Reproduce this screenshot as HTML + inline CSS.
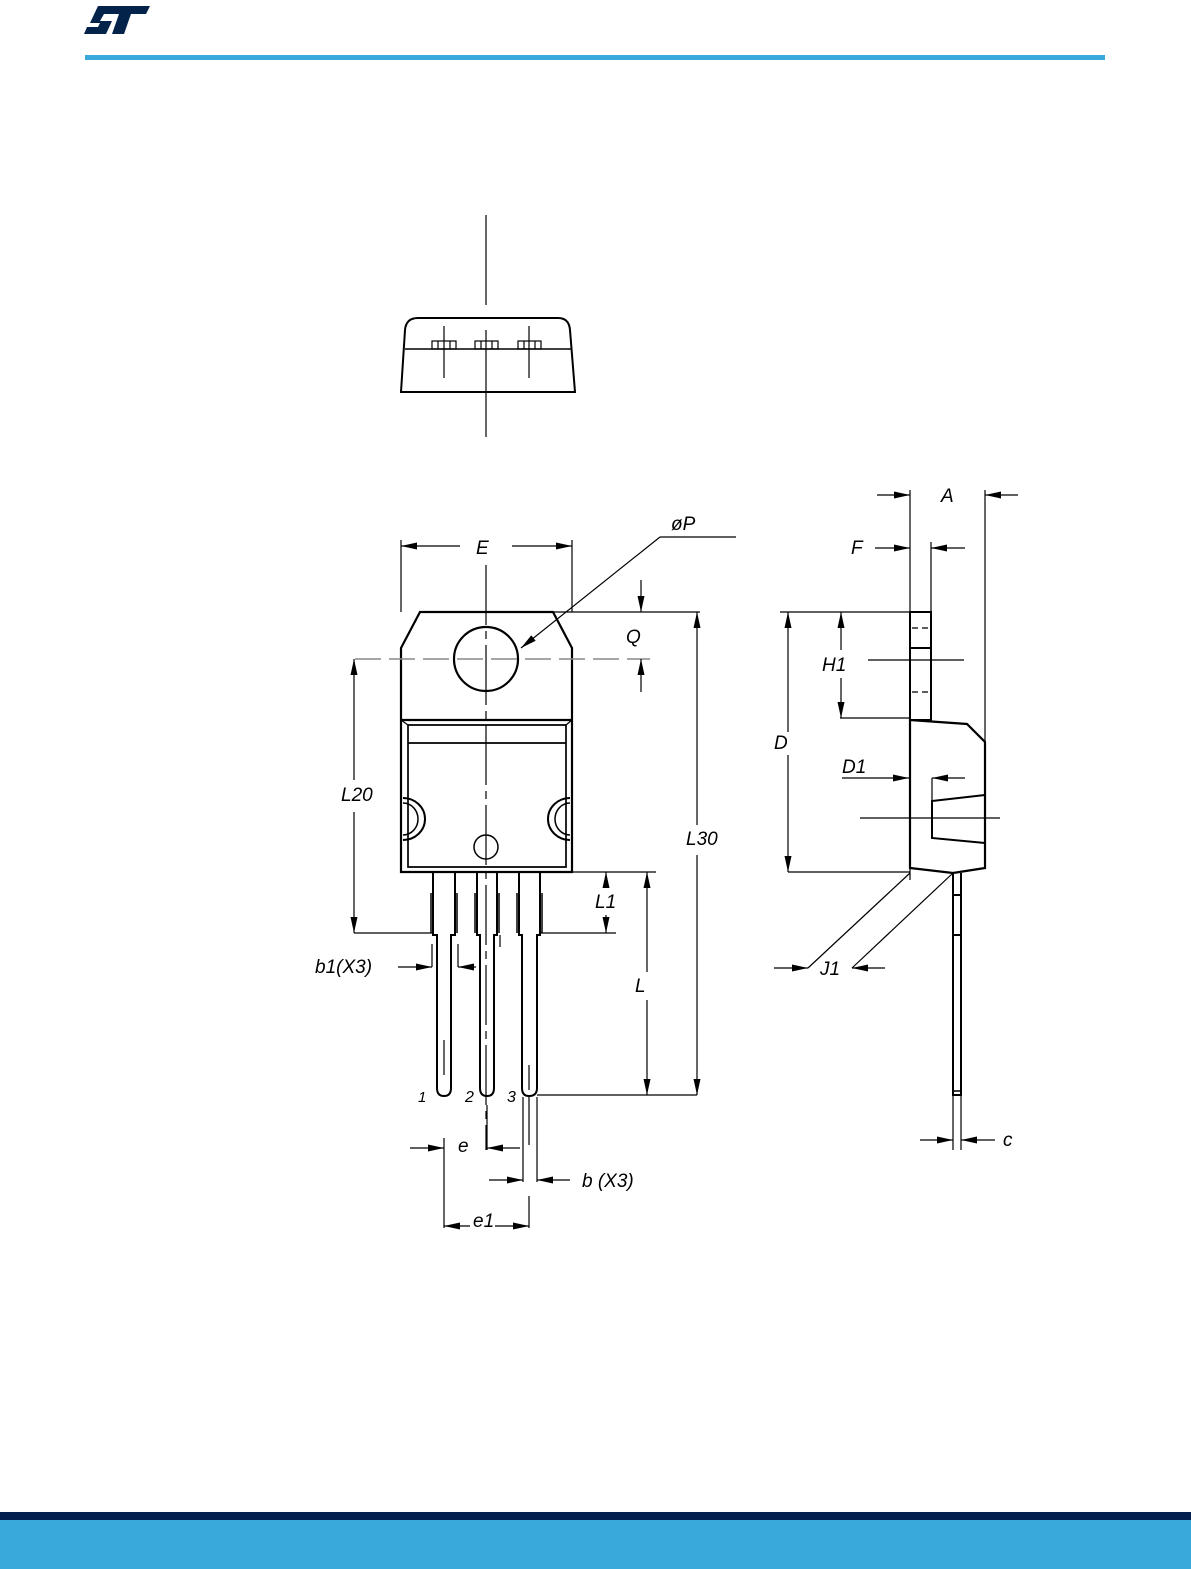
<!DOCTYPE html>
<html><head><meta charset="utf-8"><style>
html,body{margin:0;padding:0;background:#fff;}
svg{display:block;}
text{font-family:"Liberation Sans",sans-serif;font-style:italic;font-size:19px;fill:#000;}
</style></head><body>
<svg width="1191" height="1569" viewBox="0 0 1191 1569" xmlns="http://www.w3.org/2000/svg">
<defs>
<marker id="ar" markerWidth="16" markerHeight="8" refX="16" refY="4" orient="auto" markerUnits="userSpaceOnUse">
<path d="M0,0.5 L16,4 L0,7.5 Z" fill="#000"/></marker>
</defs>
<!-- header -->
<polygon points="98,6 150,6 146,14 131,14 124,34 112,34 119,14 104,14 100,21 112,21 106,34 84,34 87,27 98,27 100,23 90,23" fill="#03234b"/>
<rect x="85" y="55" width="1020" height="5" fill="#39a9dc"/>
<rect x="0" y="1512" width="1191" height="8" fill="#03204e"/>
<rect x="0" y="1520" width="1191" height="49" fill="#39a9dc"/>

<g stroke="#000" fill="none" stroke-width="1.2">
<!-- top view -->
<line x1="486" y1="215" x2="486" y2="305"/>
<line x1="486" y1="330" x2="486" y2="437"/>
<path d="M401,392 L405,330 Q406,318 418,318 L558,318 Q569,318 570,330 L575,392 Z" stroke-width="2"/>
<line x1="405" y1="349" x2="572" y2="349" stroke-width="1.5"/>
<rect x="432" y="341" width="24" height="8"/><rect x="475" y="341" width="23" height="8"/><rect x="518" y="341" width="23" height="8"/>
<line x1="438" y1="341" x2="438" y2="349"/><line x1="450" y1="341" x2="450" y2="349"/>
<line x1="481" y1="341" x2="481" y2="349"/><line x1="492" y1="341" x2="492" y2="349"/>
<line x1="524" y1="341" x2="524" y2="349"/><line x1="535" y1="341" x2="535" y2="349"/>
<line x1="444" y1="326" x2="444" y2="378"/><line x1="529" y1="326" x2="529" y2="378"/>

<!-- front view body -->
<path d="M420,612 L553,612 L572,648 L572,872 L401,872 L401,648 Z" stroke-width="2.2"/>
<line x1="401" y1="720" x2="572" y2="720" stroke-width="2.2"/>
<path d="M408,725 L566,725 L566,867 L408,867 Z" stroke-width="1.7"/>
<line x1="408" y1="743" x2="566" y2="743" stroke-width="1.7"/>
<line x1="401" y1="720" x2="408" y2="725"/><line x1="572" y1="720" x2="566" y2="725"/>
<circle cx="486" cy="659" r="32" stroke-width="2.2"/>
<circle cx="486" cy="847" r="12" stroke-width="1.5"/>
<path d="M403,798 A22,21 0 0 1 403,840" stroke-width="2"/>
<path d="M403,803 A15,16 0 0 1 403,835" stroke-width="1.5"/>
<path d="M570,798 A22,21 0 0 0 570,840" stroke-width="2"/>
<path d="M570,803 A15,16 0 0 0 570,835" stroke-width="1.5"/>
<line x1="355" y1="659" x2="650" y2="659" stroke="#888" stroke-width="1.5" stroke-dasharray="26,8"/>
<line x1="486" y1="565" x2="486" y2="1150" stroke-dasharray="60,6,8,6"/>

<!-- leads -->
<g stroke-width="2">
<path d="M433,872 L433,935 L437,935 L437,1088 Q437,1096 444,1096 Q451,1096 451,1088 L451,935 L455,935 L455,872"/>
<path d="M477,872 L477,935 L480,935 L480,1088 Q480,1096 487,1096 Q494,1096 494,1088 L494,935 L497,935 L497,872"/>
<path d="M519,872 L519,935 L522,935 L522,1088 Q522,1096 529,1096 Q537,1096 537,1088 L537,935 L540,935 L540,872"/>
</g>
<path d="M431,893 L431,933 M457,893 L457,933 M475,893 L475,933 M499,893 L499,933 M517,893 L517,933 M542,893 L542,933" stroke-width="1.5"/>
<line x1="444" y1="1040" x2="444" y2="1075"/>
<line x1="529" y1="1065" x2="529" y2="1090"/>
<line x1="500" y1="935" x2="500" y2="947"/>

<!-- dims front -->
<line x1="401" y1="540" x2="401" y2="612"/><line x1="572" y1="540" x2="572" y2="612"/>
<line x1="460" y1="546" x2="401" y2="546" marker-end="url(#ar)"/>
<line x1="512" y1="546" x2="572" y2="546" marker-end="url(#ar)"/>
<polyline points="736,537 660,537"/>
<line x1="660" y1="537" x2="521" y2="648" marker-end="url(#ar)"/>
<line x1="553" y1="612" x2="700" y2="612"/>
<line x1="641" y1="580" x2="641" y2="612" marker-end="url(#ar)"/>
<line x1="641" y1="692" x2="641" y2="659" marker-end="url(#ar)"/>
<line x1="697" y1="825" x2="697" y2="612" marker-end="url(#ar)"/>
<line x1="697" y1="855" x2="697" y2="1095" marker-end="url(#ar)"/>
<line x1="354" y1="780" x2="354" y2="659" marker-end="url(#ar)"/>
<line x1="354" y1="812" x2="354" y2="933" marker-end="url(#ar)"/>
<line x1="354" y1="933" x2="433" y2="933"/>
<line x1="572" y1="872" x2="656" y2="872"/>
<line x1="540" y1="933" x2="616" y2="933"/>
<line x1="606" y1="888" x2="606" y2="872" marker-end="url(#ar)"/>
<line x1="606" y1="915" x2="606" y2="933" marker-end="url(#ar)"/>
<line x1="647" y1="972" x2="647" y2="872" marker-end="url(#ar)"/>
<line x1="647" y1="1000" x2="647" y2="1095" marker-end="url(#ar)"/>
<line x1="537" y1="1095" x2="697" y2="1095"/>
<line x1="398" y1="967" x2="432" y2="967" marker-end="url(#ar)"/>
<line x1="432" y1="944" x2="432" y2="967"/>
<line x1="458" y1="944" x2="458" y2="967"/>
<line x1="476" y1="967" x2="458" y2="967" marker-end="url(#ar)"/>
<line x1="444" y1="1138" x2="444" y2="1228"/>
<line x1="487" y1="1105" x2="487" y2="1150"/>
<line x1="410" y1="1148" x2="444" y2="1148" marker-end="url(#ar)"/>
<line x1="520" y1="1148" x2="487" y2="1148" marker-end="url(#ar)"/>
<line x1="523" y1="1097" x2="523" y2="1182"/><line x1="537" y1="1097" x2="537" y2="1182"/>
<line x1="529" y1="1097" x2="529" y2="1145"/>
<line x1="489" y1="1180" x2="523" y2="1180" marker-end="url(#ar)"/>
<line x1="570" y1="1180" x2="537" y2="1180" marker-end="url(#ar)"/>
<line x1="529" y1="1196" x2="529" y2="1228"/>
<line x1="470" y1="1226" x2="444" y2="1226" marker-end="url(#ar)"/>
<line x1="495" y1="1226" x2="529" y2="1226" marker-end="url(#ar)"/>

<!-- side view -->
<rect x="910" y="612" width="21" height="108" stroke-width="2"/>
<line x1="910" y1="648" x2="931" y2="648" stroke-width="2"/>
<line x1="912" y1="628" x2="930" y2="628" stroke-dasharray="6,4"/>
<line x1="912" y1="692" x2="930" y2="692" stroke-dasharray="6,4"/>
<path d="M910,720 L967,724 L985,742 L985,868 L953,873 L910,868 Z" stroke-width="2.2"/>
<path d="M985,795 L932,801 L932,838 L985,843" stroke-width="2"/>
<path d="M953,873 L953,1095 L961,1095 L961,873" stroke-width="2"/>
<line x1="953" y1="895" x2="961" y2="895" stroke-width="2"/>
<line x1="953" y1="935" x2="961" y2="935" stroke-width="2"/>
<line x1="953" y1="1091" x2="961" y2="1091" stroke-width="1.5"/>
<line x1="953" y1="1095" x2="953" y2="1150"/><line x1="961" y1="1095" x2="961" y2="1150"/>
<line x1="910" y1="490" x2="910" y2="612"/><line x1="985" y1="490" x2="985" y2="742"/>
<line x1="931" y1="542" x2="931" y2="612"/>
<line x1="877" y1="495" x2="910" y2="495" marker-end="url(#ar)"/>
<line x1="1018" y1="495" x2="985" y2="495" marker-end="url(#ar)"/>
<line x1="875" y1="548" x2="910" y2="548" marker-end="url(#ar)"/>
<line x1="965" y1="548" x2="931" y2="548" marker-end="url(#ar)"/>
<line x1="780" y1="612" x2="910" y2="612"/><line x1="788" y1="872" x2="910" y2="872"/>
<line x1="788" y1="732" x2="788" y2="612" marker-end="url(#ar)"/>
<line x1="788" y1="755" x2="788" y2="872" marker-end="url(#ar)"/>
<line x1="841" y1="650" x2="841" y2="612" marker-end="url(#ar)"/>
<line x1="841" y1="678" x2="841" y2="718" marker-end="url(#ar)"/>
<line x1="840" y1="718" x2="910" y2="718"/>
<line x1="868" y1="660" x2="964" y2="660"/>
<line x1="842" y1="778" x2="909" y2="778" marker-end="url(#ar)"/>
<line x1="965" y1="778" x2="932" y2="778" marker-end="url(#ar)"/>
<line x1="932" y1="778" x2="932" y2="800"/>
<line x1="860" y1="818" x2="1000" y2="818"/>
<line x1="910" y1="868" x2="910" y2="880"/>
<line x1="910" y1="873" x2="808" y2="968"/>
<line x1="953" y1="873" x2="852" y2="968"/>
<line x1="774" y1="968" x2="808" y2="968" marker-end="url(#ar)"/>
<line x1="885" y1="968" x2="852" y2="968" marker-end="url(#ar)"/>
<line x1="920" y1="1140" x2="953" y2="1140" marker-end="url(#ar)"/>
<line x1="995" y1="1140" x2="961" y2="1140" marker-end="url(#ar)"/>
</g>

<!-- labels -->
<text x="476" y="554">E</text>
<text x="671" y="530">øP</text>
<text x="626" y="643">Q</text>
<text x="686" y="845">L30</text>
<text x="341" y="801">L20</text>
<text x="595" y="908">L1</text>
<text x="635" y="992">L</text>
<text x="315" y="973">b1(X3)</text>
<text x="418" y="1102" style="font-size:15px">1</text>
<text x="465" y="1102" style="font-size:16px">2</text>
<text x="507" y="1102" style="font-size:16px">3</text>
<text x="458" y="1152">e</text>
<text x="582" y="1187">b  (X3)</text>
<text x="473" y="1227">e1</text>
<text x="941" y="502">A</text>
<text x="851" y="554">F</text>
<text x="774" y="749">D</text>
<text x="822" y="671">H1</text>
<text x="842" y="773">D1</text>
<text x="820" y="975">J1</text>
<text x="1003" y="1146">c</text>
</svg>
</body></html>
